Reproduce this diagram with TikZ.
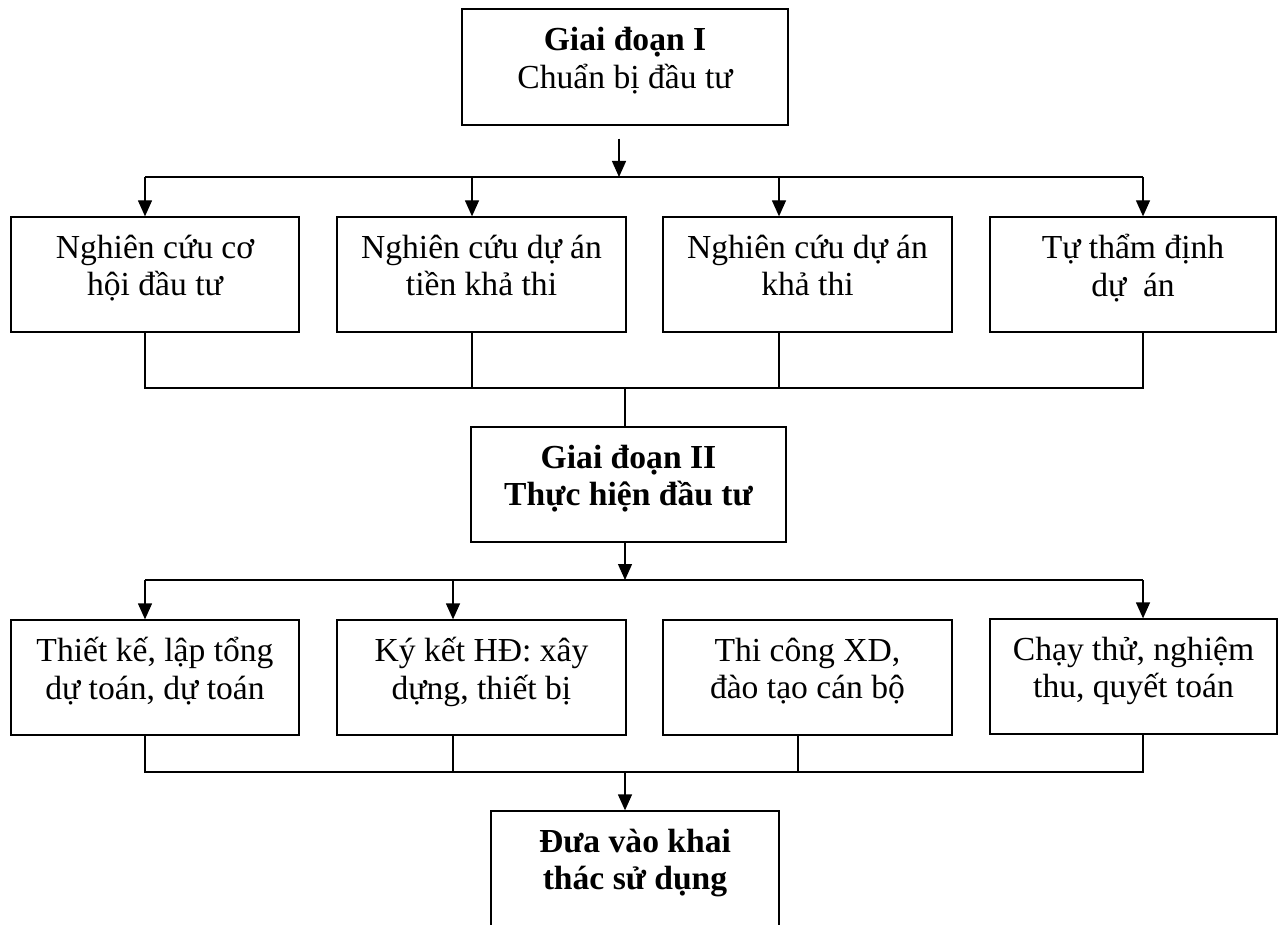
\documentclass[tikz,border=0pt]{standalone}
\usepackage{fontspec}
\setmainfont{Liberation Serif}
\usepackage{tikz}
\usetikzlibrary{arrows.meta, calc}
\newcommand{\boxfont}{\fontsize{16.8}{18.7}\selectfont}
\tikzset{
	stagebox/.style={rectangle, draw=black, line width=0.65pt, minimum width=144pt, minimum height=57.5pt, align=center, text depth=9pt, inner sep=2pt, font=\boxfont},
	headbox/.style ={stagebox, font=\boxfont\bfseries},
	link/.style     ={line width=0.65pt},
	linkarrow/.style={-{Triangle[length=8pt, width=7pt]}, line width=0.65pt},
}

\begin{document}
\begin{tikzpicture}[x=0.5pt, y=-0.5pt]
	\useasboundingbox (0,0) rectangle (1278,925);
	% stage I
	\node[stagebox, minimum width=163pt, minimum height=58pt] (g1) at (625,67) {\textbf{Giai đoạn I}\\Chuẩn bị đầu tư};
	\node[stagebox] (r1a) at (155,274.5) {Nghiên cứu cơ\\hội đầu tư};
	\node[stagebox, minimum width=144.5pt] (r1b) at (481.5,274.5) {Nghiên cứu dự án\\tiền khả thi};
	\node[stagebox, minimum width=144.5pt] (r1c) at (807.5,274.5) {Nghiên cứu dự án\\khả thi};
	\node[stagebox, minimum width=143pt] (r1d) at (1133,274.5) {Tự thẩm định\\dự\ \ án};
	% stage II
	\node[headbox, minimum width=157.5pt] (g2) at (628.5,484.5) {Giai đoạn II\\Thực hiện đầu tư};
	\node[stagebox] (r2a) at (155,677.5) {Thiết kế, lập tổng\\dự toán, dự toán};
	\node[stagebox, minimum width=144.5pt] (r2b) at (481.5,677.5) {Ký kết HĐ: xây\\dựng, thiết bị};
	\node[stagebox, minimum width=144.5pt] (r2c) at (807.5,677.5) {Thi công XD,\\đào tạo cán bộ};
	\node[stagebox, minimum width=143.5pt] (r2d) at (1133.5,676.5) {Chạy thử, nghiệm\\thu, quyết toán};
	\node[headbox] (g3) at (635,868.5) {Đưa vào khai\\thác sử dụng};

	\coordinate (p1) at (619,177);
	\coordinate (t1a) at (145,177);
	\coordinate (t1b) at (472,177);
	\coordinate (t1c) at (779,177);
	\coordinate (t1d) at (1143,177);
	\coordinate (u1a) at (145,388);
	\coordinate (u1b) at (472,388);
	\coordinate (u1c) at (779,388);
	\coordinate (u1d) at (1143,388);
	\coordinate (u1m) at (625,388);
	\coordinate (t2a) at (145,580);
	\coordinate (t2b) at (453,580);
	\coordinate (t2d) at (1143,580);
	\coordinate (t2m) at (625,580);
	\coordinate (u2a) at (145,772);
	\coordinate (u2b) at (453,772);
	\coordinate (u2c) at (798,772);
	\coordinate (u2d) at (1143,772);
	\coordinate (u2m) at (625,772);

	\draw[linkarrow, shorten <=6.5pt] (g1.south -| p1) -- (p1);
	\draw[link] (t1a) -- (t1d);
	\draw[linkarrow] (t1a) -- (t1a |- r1a.north);
	\draw[linkarrow] (t1b) -- (t1b |- r1b.north);
	\draw[linkarrow] (t1c) -- (t1c |- r1c.north);
	\draw[linkarrow] (t1d) -- (t1d |- r1d.north);
	\draw[link] (r1a.south -| u1a) -- (u1a) -- (u1d) -- (r1d.south -| u1d);
	\draw[link] (r1b.south -| u1b) -- (u1b);
	\draw[link] (r1c.south -| u1c) -- (u1c);
	\draw[link] (u1m) -- (u1m |- g2.north);

	\draw[linkarrow] (g2.south -| t2m) -- (t2m);
	\draw[link] (t2a) -- (t2d);
	\draw[linkarrow] (t2a) -- (t2a |- r2a.north);
	\draw[linkarrow] (t2b) -- (t2b |- r2b.north);
	\draw[linkarrow] (t2d) -- (t2d |- r2d.north);
	\draw[link] (r2a.south -| u2a) -- (u2a) -- (u2d) -- (r2d.south -| u2d);
	\draw[link] (r2b.south -| u2b) -- (u2b);
	\draw[link] (r2c.south -| u2c) -- (u2c);
	\draw[linkarrow] (u2m) -- (u2m |- g3.north);
\end{tikzpicture}
\end{document}
